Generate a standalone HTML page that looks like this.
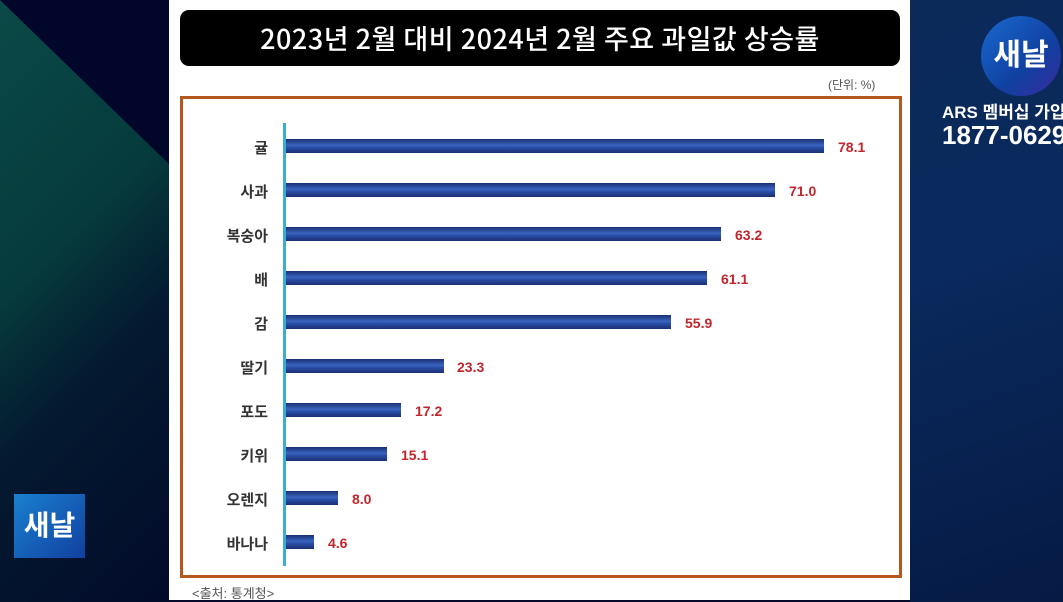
<!DOCTYPE html>
<html><head><meta charset="utf-8"><style>
*{margin:0;padding:0;box-sizing:border-box}
body{width:1063px;height:602px;overflow:hidden;position:relative;font-family:"Liberation Sans","Noto Sans CJK KR",sans-serif;background:#050a2a}
.bgL{position:absolute;left:0;top:0;width:170px;height:602px;background:linear-gradient(135deg,#0a4a48 0%,#063a3c 40%,#041a30 60%,#020a2a 100%)}
.tri{position:absolute;left:0;top:0;width:170px;height:602px;background:#01062a;clip-path:polygon(0 0,170px 0,170px 165px)}
.bgR{position:absolute;left:910px;top:0;width:153px;height:602px;background:linear-gradient(160deg,#0b2a5a 0%,#0a2a5e 40%,#061a44 100%)}
.panel{position:absolute;left:169px;top:0;width:741px;height:600px;background:#fff}
.title{position:absolute;left:180px;top:10px;width:720px;height:56px;background:#000;border-radius:9px;color:#fff;font-size:27px;font-weight:500;text-align:center;line-height:56px;letter-spacing:0.5px;font-family:"Noto Sans CJK KR",sans-serif}
.unit{position:absolute;left:828px;top:76px;font-size:12px;color:#555}
.frame{position:absolute;left:180px;top:96px;width:722px;height:482px;border:3px solid #b4581e}
.axis{position:absolute;left:283px;top:123px;width:3px;height:443px;background:#3aaed0}
.bar{position:absolute;left:286px;height:14px;background:linear-gradient(#1b2f73,#3a64c0 45%,#2a4fa8 60%,#1b2f73)}
.lab{position:absolute;width:90px;text-align:right;left:178px;font-size:15px;font-weight:bold;color:#333}
.val{position:absolute;font-size:14px;font-weight:bold;color:#c0262c}
.src{position:absolute;left:192px;top:583px;font-size:13px;color:#555}
.logo1{position:absolute;left:981px;top:16px;width:80px;height:80px;border-radius:50%;background:linear-gradient(135deg,#1a6ad0,#1040a0 60%,#3a2aa0);color:#fff;font-size:30px;font-weight:bold;text-align:center;line-height:80px}
.ars{position:absolute;left:942px;top:98px;color:#fff;font-weight:bold;font-size:17px;white-space:nowrap}
.num{position:absolute;left:942px;top:120px;color:#fff;font-weight:bold;font-size:26px;white-space:nowrap}
.logo2{position:absolute;left:14px;top:494px;width:71px;height:64px;background:linear-gradient(135deg,#1a80d0,#1040a0);color:#fff;font-size:28px;font-weight:bold;text-align:center;line-height:64px}
</style></head><body>
<div class="bgL"></div><div class="tri"></div><div class="bgR"></div>
<div class="panel"></div>
<div class="title">2023년 2월 대비 2024년 2월 주요 과일값 상승률</div>
<div class="unit">(단위: %)</div>
<div class="frame"></div>
<div class="axis"></div>
<div class="lab" style="top:137px">귤</div><div class="bar" style="top:139px;width:538px"></div><div class="val" style="left:838px;top:139px">78.1</div>
<div class="lab" style="top:181px">사과</div><div class="bar" style="top:183px;width:489px"></div><div class="val" style="left:789px;top:183px">71.0</div>
<div class="lab" style="top:225px">복숭아</div><div class="bar" style="top:227px;width:435px"></div><div class="val" style="left:735px;top:227px">63.2</div>
<div class="lab" style="top:269px">배</div><div class="bar" style="top:271px;width:421px"></div><div class="val" style="left:721px;top:271px">61.1</div>
<div class="lab" style="top:313px">감</div><div class="bar" style="top:315px;width:385px"></div><div class="val" style="left:685px;top:315px">55.9</div>
<div class="lab" style="top:357px">딸기</div><div class="bar" style="top:359px;width:158px"></div><div class="val" style="left:457px;top:359px">23.3</div>
<div class="lab" style="top:401px">포도</div><div class="bar" style="top:403px;width:115px"></div><div class="val" style="left:415px;top:403px">17.2</div>
<div class="lab" style="top:445px">키위</div><div class="bar" style="top:447px;width:101px"></div><div class="val" style="left:401px;top:447px">15.1</div>
<div class="lab" style="top:489px">오렌지</div><div class="bar" style="top:491px;width:52px"></div><div class="val" style="left:352px;top:491px">8.0</div>
<div class="lab" style="top:533px">바나나</div><div class="bar" style="top:535px;width:28px"></div><div class="val" style="left:328px;top:535px">4.6</div>
<div class="src">&lt;출처: 통계청&gt;</div>
<div class="logo1">새날</div>
<div class="ars">ARS 멤버십 가입</div>
<div class="num">1877-0629</div>
<div class="logo2">새날</div>
</body></html>
